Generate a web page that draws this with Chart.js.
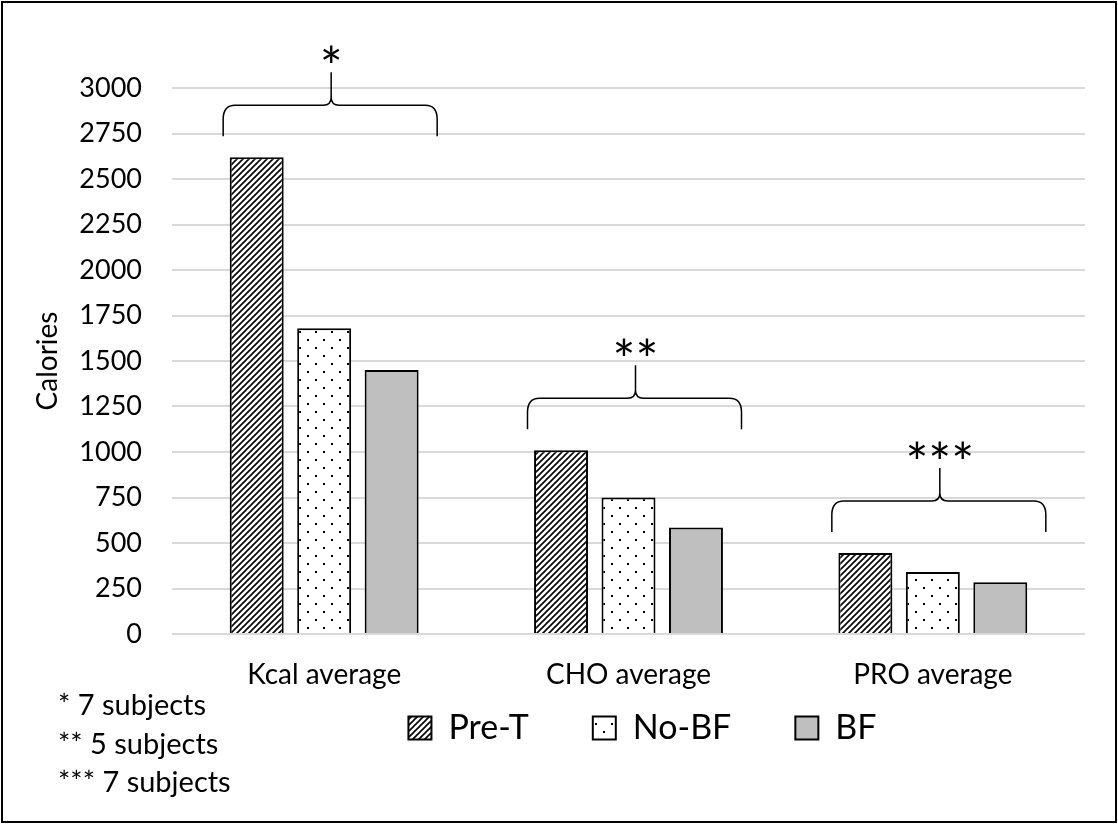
<!DOCTYPE html>
<html>
<head>
<meta charset="utf-8">
<title>Calories</title>
<script src="https://cdn.jsdelivr.net/npm/chart.js@4.4.1/dist/chart.umd.min.js"></script>
<style>
  html, body { margin: 0; padding: 0; background: #fff; }
  canvas { display: block; }
</style>
</head>
<body>
<canvas id="calChart" width="1118" height="825"></canvas>
<script>
// ── Data ──────────────────────────────────────────────────
const CATEGORIES  = ['Kcal average', 'CHO average', 'PRO average'];
const PRE_T       = [2620, 1010, 445];
const NO_BF       = [1680, 750, 340];
const BF          = [1450, 585, 285];
const GROUP_MARKS = ['*', '**', '***'];
const FOOTNOTES   = ['* 7 subjects', '** 5 subjects', '*** 7 subjects'];
const Y_MAX = 3000, Y_STEP = 250;

const FONT = 'Lato';
Chart.defaults.font.family = FONT;
Chart.defaults.color = '#000';

// ── Fill patterns ─────────────────────────────────────────
function hatchPattern() {
  const c = document.createElement('canvas');
  c.width = c.height = 6;
  const g = c.getContext('2d');
  g.fillStyle = '#fff';
  g.fillRect(0, 0, 6, 6);
  g.strokeStyle = '#000';
  g.lineWidth = 1.6;
  g.beginPath();
  g.moveTo(-1, 7); g.lineTo(7, -1);
  g.moveTo(-1, 1); g.lineTo(1, -1);
  g.moveTo(5, 7);  g.lineTo(7, 5);
  g.stroke();
  return g.createPattern(c, 'repeat');
}

function dotPattern() {
  const c = document.createElement('canvas');
  c.width = c.height = 16;
  const g = c.getContext('2d');
  g.fillStyle = '#fff';
  g.fillRect(0, 0, 16, 16);
  g.fillStyle = '#000';
  g.fillRect(3, 3, 2, 2);
  g.fillRect(11, 11, 2, 2);
  return g.createPattern(c, 'repeat');
}

// ── Braces + asterisks over each group ────────────────────
const bracePlugin = {
  id: 'braces',
  afterDatasetsDraw(chart) {
    const { ctx, scales: { x, y } } = chart;
    ctx.save();
    ctx.strokeStyle = '#000';
    ctx.lineWidth = 1.5;
    ctx.fillStyle = '#000';
    ctx.font = `54px ${FONT}`;
    ctx.textAlign = 'center';
    ctx.textBaseline = 'alphabetic';
    CATEGORIES.forEach((_, i) => {
      const cx   = x.getPixelForValue(i);
      const top  = y.getPixelForValue(Math.max(PRE_T[i], NO_BF[i], BF[i]));
      const base = top - 21, h = base - 31, tip = h - 33;
      const L = cx - 101, R = cx + 113, M = cx + 7;
      ctx.beginPath();
      ctx.moveTo(L, base);
      ctx.lineTo(L, h + 14);
      ctx.quadraticCurveTo(L, h, L + 12, h);
      ctx.lineTo(M - 8, h);
      ctx.quadraticCurveTo(M, h, M, h - 8);
      ctx.lineTo(M, tip);
      ctx.moveTo(R, base);
      ctx.lineTo(R, h + 14);
      ctx.quadraticCurveTo(R, h, R - 12, h);
      ctx.lineTo(M + 8, h);
      ctx.quadraticCurveTo(M, h, M, h - 8);
      ctx.stroke();
      ctx.fillText(GROUP_MARKS[i], M, tip + 14);
    });
    ctx.restore();
  },
};

// ── Footnotes, frame, legend placement ────────────────────
const notesPlugin = {
  id: 'notes',
  afterLayout(chart) {
    // legend sits between the footnote lines, centred under the braces
    const lg = chart.legend;
    lg.left += 14;  lg.right += 14;
    lg.top -= 47;   lg.bottom -= 47;
  },
  afterDraw(chart) {
    const { ctx } = chart;
    ctx.save();
    ctx.fillStyle = '#000';
    ctx.font = `29px ${FONT}`;
    ctx.textAlign = 'left';
    ctx.textBaseline = 'alphabetic';
    FOOTNOTES.forEach((t, i) => ctx.fillText(t, 58, 715 + i * 38.5));
    ctx.strokeStyle = '#000';
    ctx.lineWidth = 2;
    ctx.strokeRect(2, 2, 1114, 820);
    ctx.restore();
  },
};

// ── Chart ─────────────────────────────────────────────────
const SERIES = [
  { label: 'Pre-T', data: PRE_T, backgroundColor: hatchPattern() },
  { label: 'No-BF', data: NO_BF, backgroundColor: dotPattern() },
  { label: 'BF',    data: BF,    backgroundColor: '#bfbfbf' },
];

new Chart(document.getElementById('calChart'), {
  type: 'bar',
  data: {
    labels: CATEGORIES,
    datasets: SERIES.map(s => ({
      ...s,
      borderColor: '#000',
      borderWidth: 2,
      categoryPercentage: 0.665,
      barPercentage: 0.8,
    })),
  },
  options: {
    responsive: false,
    animation: false,
    layout: { padding: { left: 0, top: 88, right: 33, bottom: 23 } },
    plugins: {
      legend: {
        position: 'bottom',
        fullSize: false,
        labels: { color: '#000', font: { size: 34 }, boxWidth: 23, boxHeight: 23, padding: 64 },
      },
      tooltip: { enabled: false },
    },
    scales: {
      x: {
        grid: { display: false, drawTicks: false },
        border: { display: false },
        ticks: { color: '#000', font: { size: 28 }, padding: 24 },
        afterFit(scale) { scale.height = 60; },
      },
      y: {
        min: 0, max: Y_MAX,
        grid: { color: '#d9d9d9', lineWidth: 2, drawTicks: false },
        border: { display: false },
        ticks: {
          stepSize: Y_STEP, color: '#000', font: { size: 27 }, padding: 30,
          callback: v => String(v),
        },
        title: {
          display: true, text: 'Calories', color: '#000',
          font: { size: 28 }, padding: { top: 31, bottom: 0 },
        },
        afterFit(scale) { scale.width = 172; },
      },
    },
  },
  plugins: [bracePlugin, notesPlugin],
});
</script>
</body>
</html>
